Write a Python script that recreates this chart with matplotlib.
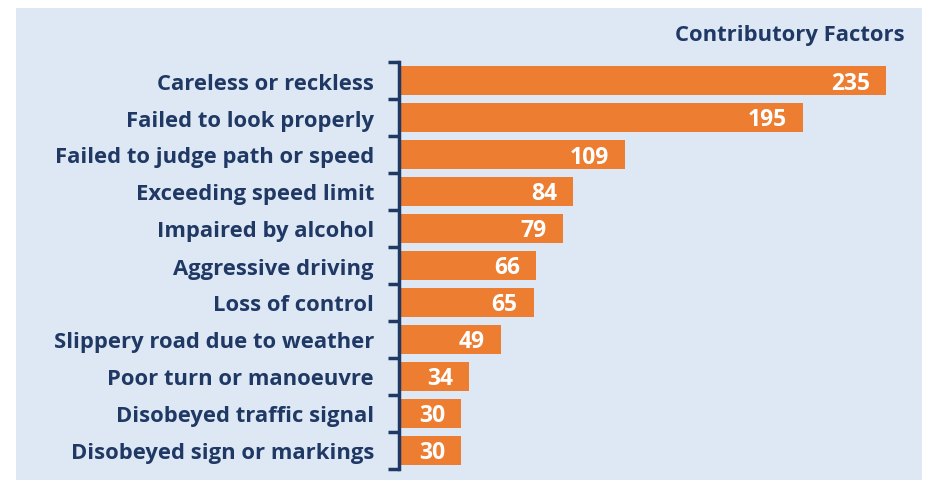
import matplotlib.pyplot as plt
from matplotlib.patches import Rectangle

categories = ["Careless or reckless", "Failed to look properly", "Failed to judge path or speed",
              "Exceeding speed limit", "Impaired by alcohol", "Aggressive driving",
              "Loss of control", "Slippery road due to weather", "Poor turn or manoeuvre",
              "Disobeyed traffic signal", "Disobeyed sign or markings"]
values = [235, 195, 109, 84, 79, 66, 65, 49, 34, 30, 30]

navy = "#1f3864"
orange = "#ed7d31"
bg = "#dde8f4"
plt.rcParams['font.family'] = ['Open Sans', 'DejaVu Sans']

W, H = 928, 481
fig = plt.figure(figsize=(W / 100, H / 100), dpi=100)
fig.patches.append(Rectangle((16 / W, 0), (922 - 16) / W, 1 - 9 / H,
                             transform=fig.transFigure, facecolor=bg, edgecolor="none", zorder=-5))

ax = fig.add_axes([399 / W, 1 - 470 / H, (910 - 399) / W, (470 - 63) / H])
ax.set_zorder(2)
ax.set_facecolor("none")
n = len(categories)
ypos = list(range(n))
ax.barh(ypos, values, height=0.78, color=orange, left=0)
ax.set_ylim(n - 0.5, -0.5)
ax.set_xlim(0, (910 - 399) / ((886 - 399) / 235))

for y, v in zip(ypos, values):
    ax.annotate(str(v), (v, y), xytext=(-16, -2), textcoords="offset pixels",
                ha="right", va="center", color="white", fontsize=16.5, fontweight="bold")

ax.set_yticks([y + 0.5 for y in [-1] + ypos], minor=False)
ax.set_yticklabels([])
ax.set_yticks(ypos, minor=True)
ax.set_yticklabels(categories, minor=True, fontsize=15.8, fontweight="bold", color=navy)
ax.tick_params(axis="y", which="major", length=8, width=2.5, color=navy)
ax.tick_params(axis="y", which="minor", length=0, pad=18)
ax.set_xticks([])
for s in ["top", "right", "bottom"]:
    ax.spines[s].set_visible(False)
ax.spines["left"].set_color(navy)
ax.spines["left"].set_linewidth(2.5)

fig.text(905 / W, 1 - 35 / H, "Contributory Factors", ha="right", va="center",
         color=navy, fontsize=15.8, fontweight="bold")

fig.savefig("out.png", dpi=100)
